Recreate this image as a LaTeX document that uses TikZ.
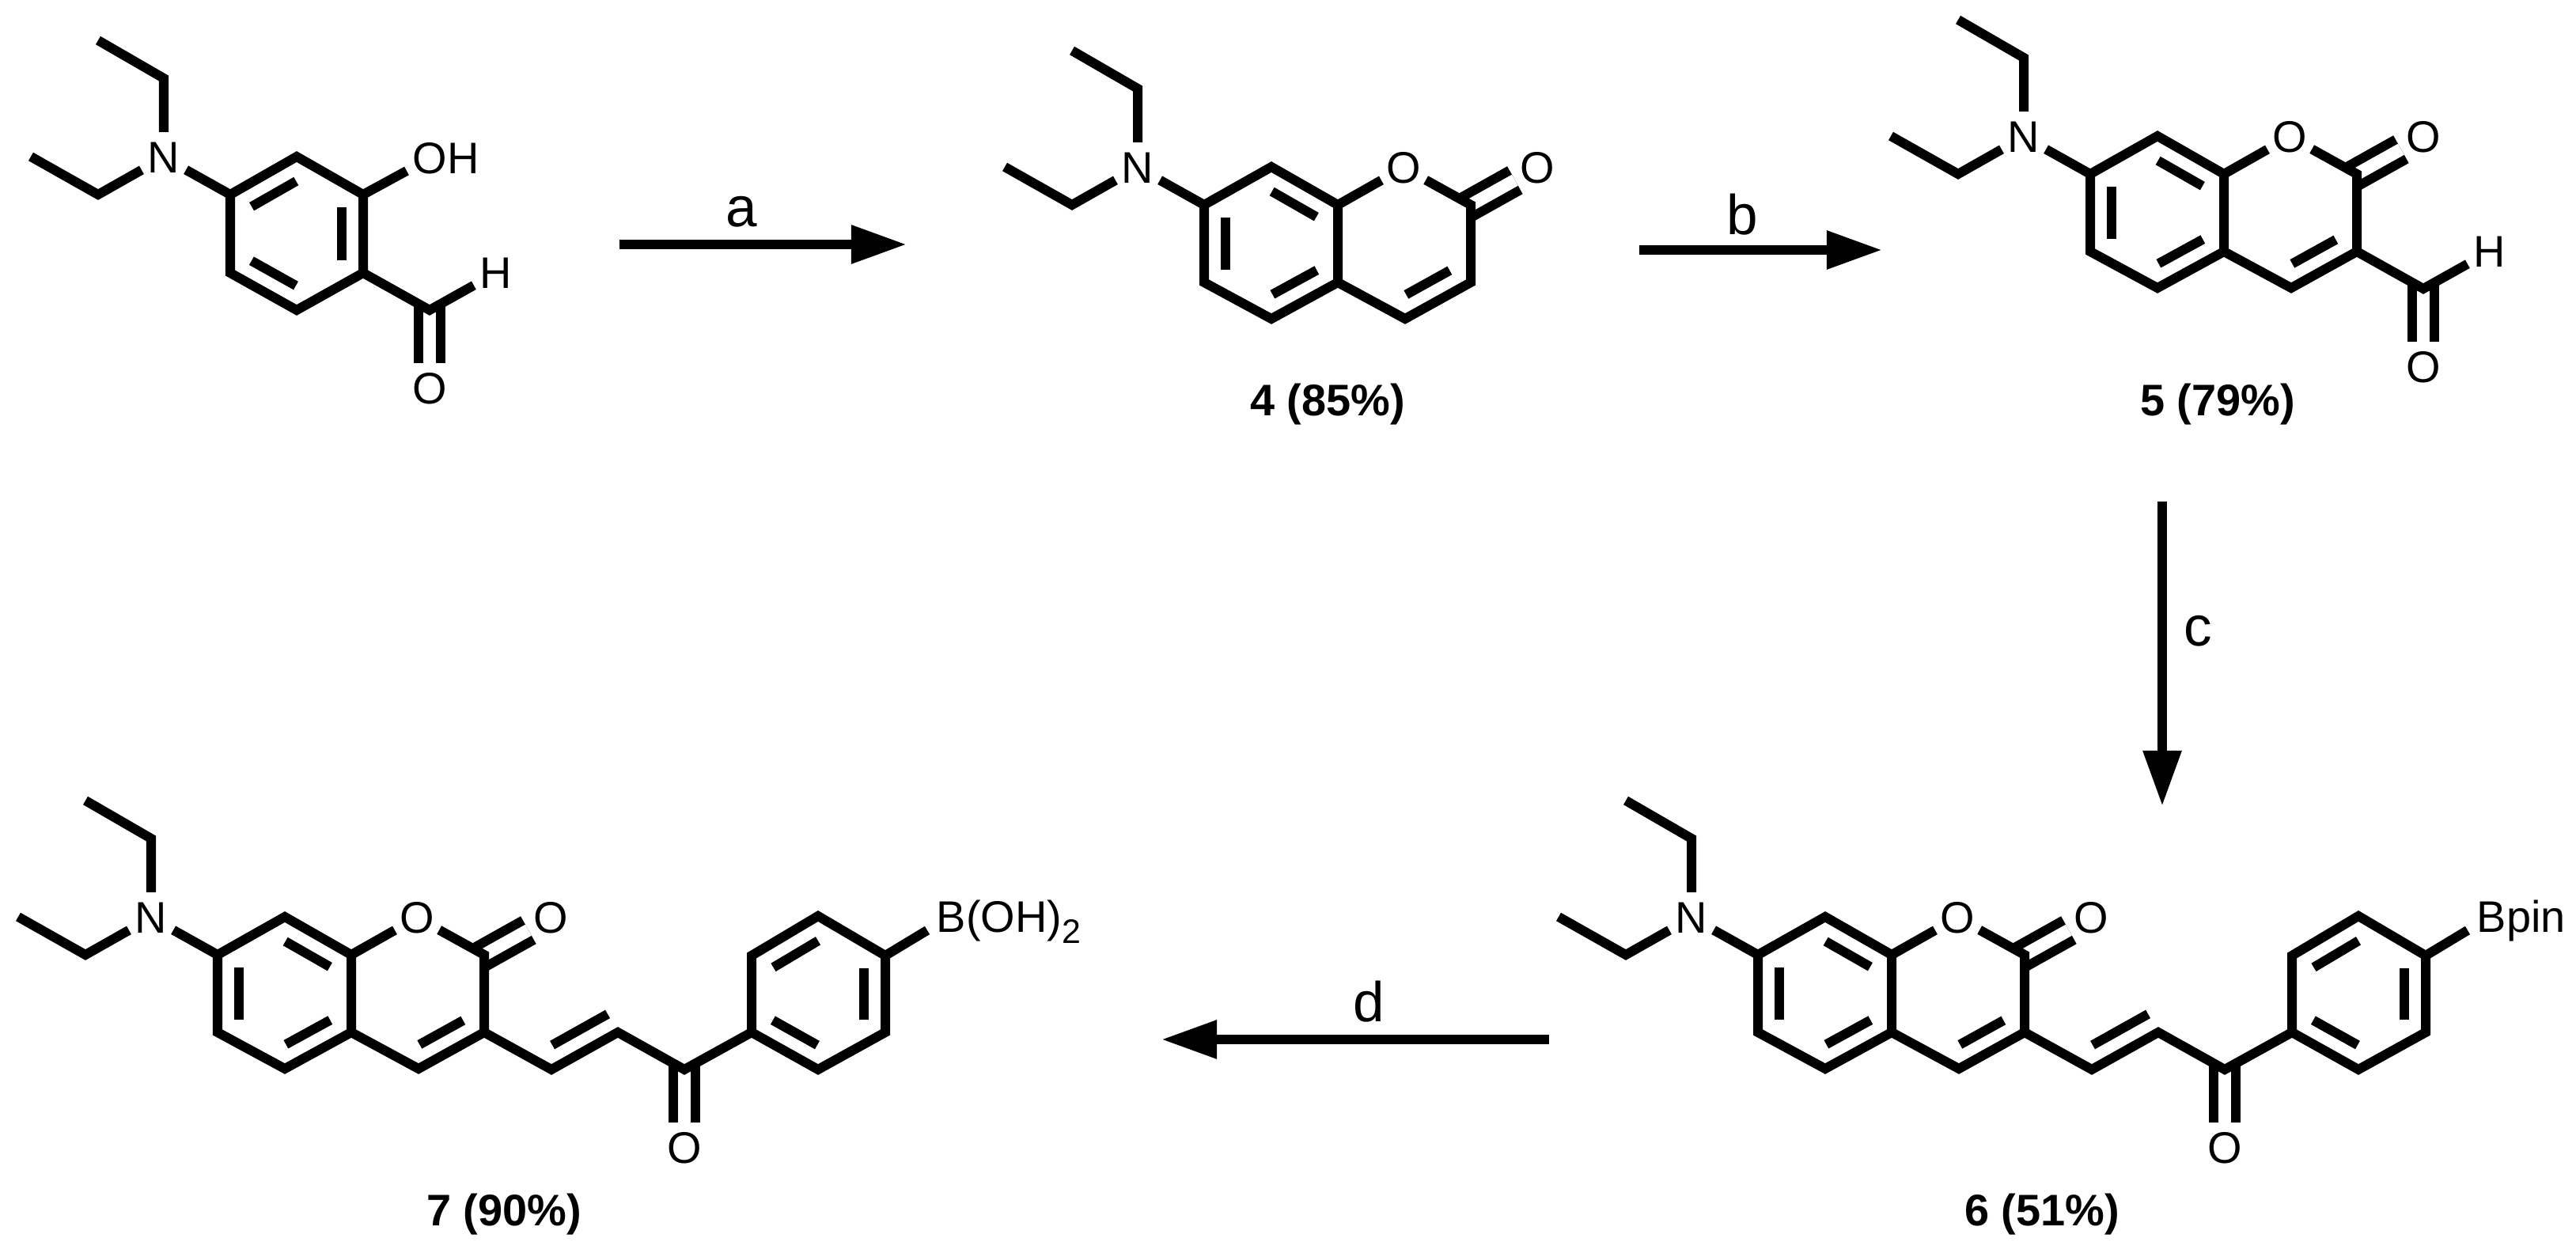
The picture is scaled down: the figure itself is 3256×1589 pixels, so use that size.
\documentclass[tikz,border=0pt]{standalone}
\usepackage{fontspec}
\setmainfont{Liberation Sans}
\usetikzlibrary{calc,arrows.meta}
\newcommand{\chemfont}{\fontsize{15.9pt}{19pt}\selectfont}
\newcommand{\stepfont}{\fontsize{20.2pt}{24pt}\selectfont}
\newcommand{\subtwo}{\raisebox{-0.13cm}{\fontsize{12.2pt}{14pt}\selectfont 2}}
\tikzset{
  bond/.style={line width=0.12cm},
  dblbond/.style={bond, double, double distance=0.16cm, shorten <=-0.05cm},
  atom/.style={circle, inner sep=0pt, minimum size=0.63cm, font=\chemfont},
  group/.style={inner sep=0pt, anchor=base west, font=\chemfont},
  yieldlbl/.style={inner sep=0pt, anchor=base, font=\chemfont\bfseries},
  steplbl/.style={inner sep=0pt, anchor=base, font=\stepfont},
  rxnarrow/.style={line width=0.12cm, -{Triangle[length=0.7cm, width=0.46cm]}}
}
\newcommand{\ringbond}[3][]{%
  \draw[bond, shorten <=0.16cm, shorten >=0.16cm, #1]
       ($(#2)!0.275!90:(#3)$) -- ($(#3)!0.275!-90:(#2)$);}
\newcommand{\amino}[1]{%
  \coordinate (#1e1) at (-167,-195);
  \coordinate (#1e2) at (-84,-147);
  \coordinate (#1e3) at (-252,-48);
  \coordinate (#1e4) at (-167,0);
  \node[atom] (#1n) at (-84,-47) {N};
  \draw[bond] (#1e1) -- (#1e2) -- (#1n);
  \draw[bond] (#1e3) -- (#1e4) -- (#1n);
  \draw[bond] (#1n) -- (#1c7);}
\newcommand{\formyl}[2]{%
  \begin{scope}[shift={(#2)}]
    \coordinate (#1f) at (84,47);
    \node[atom] (#1h) at (168,0) {H};
    \node[atom] (#1fo) at (84,146) {O};
    \draw[dblbond] (#1f) -- (#1fo);
    \draw[bond] (0,0) coordinate (#1fr) -- (#1f) -- (#1h);
  \end{scope}}
\newcommand{\coumarin}[3]{%
  \begin{scope}[shift={(#2,#3)}]
    \coordinate (#1c7) at (0,0);
    \coordinate (#1c8) at (85,-48);
    \coordinate (#1c8a) at (169,0);
    \coordinate (#1c4a) at (169,98);
    \coordinate (#1c5) at (85,144);
    \coordinate (#1c6) at (0,98);
    \coordinate (#1c2) at (337,0);
    \coordinate (#1c3) at (337,98);
    \coordinate (#1c4) at (254,144);
    \node[atom] (#1o1) at (252,-47) {O};
    \node[atom] (#1o2) at (421,-47) {O};
    \draw[dblbond] (#1c2) -- (#1o2);
    \draw[bond] (#1c7) -- (#1c8) -- (#1c8a) -- (#1c4a) -- (#1c5) -- (#1c6) -- cycle;
    \draw[bond] (#1c8a) -- (#1o1) -- (#1c2) -- (#1c3) -- (#1c4) -- (#1c4a);
    \ringbond{#1c7}{#1c6}
    \ringbond{#1c8a}{#1c8}
    \ringbond{#1c5}{#1c4a}
    \ringbond{#1c4}{#1c3}
    \amino{#1}
  \end{scope}}
\newcommand{\enone}[4]{%
  \begin{scope}[shift={(#2,#3)}]
    \coordinate (#1c3x) at (0,0);
    \coordinate (#1v1) at (85,47);
    \coordinate (#1v2) at (169,0);
    \coordinate (#1k) at (253,47);
    \node[atom] (#1ko) at (253,146) {O};
    \coordinate (#1r1) at (338,0);
    \coordinate (#1r2) at (338,-97);
    \coordinate (#1r3) at (422,-147);
    \coordinate (#1r4) at (507,-97);
    \coordinate (#1r5) at (507,0);
    \coordinate (#1r6) at (422,47);
    \coordinate (#1bend) at (560,-129);
    \node[group] (#1b) at (571,-126) {#4};
    \draw[dblbond] (#1k) -- (#1ko);
    \draw[bond] (#1c3x) -- (#1v1) -- (#1v2) -- (#1k) -- (#1r1);
    \draw[bond] (#1r1) -- (#1r2) -- (#1r3) -- (#1r4) -- (#1r5) -- (#1r6) -- cycle;
    \draw[bond] (#1r4) -- (#1bend);
    \ringbond[shorten >=0pt]{#1v1}{#1v2}
    \ringbond{#1r3}{#1r2}
    \ringbond{#1r1}{#1r6}
    \ringbond{#1r5}{#1r4}
  \end{scope}}
\begin{document}
\begin{tikzpicture}[x=0.01cm, y=-0.01cm]
      \useasboundingbox (0,0) rectangle (3256,1589);

      \begin{scope}[shift={(291,246)}]
        \coordinate (c7) at (0,0);
        \coordinate (sa2) at (84,-48);
        \coordinate (sa3) at (168,0);
        \coordinate (sa4) at (168,99);
        \coordinate (sa5) at (84,146);
        \coordinate (sa6) at (0,99);
        \coordinate (ohend) at (223,-30);
        \node[group] (oh) at (230,-26) {OH};
        \draw[bond] (c7) -- (sa2) -- (sa3) -- (sa4) -- (sa5) -- (sa6) -- cycle;
        \draw[bond] (sa3) -- (ohend);
        \ringbond{sa2}{c7}
        \ringbond{sa6}{sa5}
        \ringbond{sa4}{sa3}
        \amino{}
      \end{scope}
      \formyl{sa}{459,345}

      \coumarin{p}{1522}{259}
      \coumarin{q}{2642}{220}
      \formyl{q}{2979,318}
      \coumarin{r}{2222}{1207}
      \enone{r}{2559}{1305}{Bpin}
      \coumarin{s}{275}{1207}
      \enone{s}{612}{1305}{B(OH)\subtwo}

      \coordinate (astart) at (783,309);
      \coordinate (aend) at (1146,309);
      \coordinate (bstart) at (2072,316);
      \coordinate (bend) at (2379,316);
      \coordinate (cstart) at (2733,634);
      \coordinate (cend) at (2733,1019);
      \coordinate (dstart) at (1958,1314);
      \coordinate (dend) at (1468,1314);
      \draw[rxnarrow] (astart) -- (aend);
      \draw[rxnarrow] (bstart) -- (bend);
      \draw[rxnarrow] (cstart) -- (cend);
      \draw[rxnarrow] (dstart) -- (dend);
      \node[steplbl] (alab) at (937,287) {a};
      \node[steplbl] (blab) at (2202,297) {b};
      \node[steplbl] (clab) at (2778,817) {c};
      \node[steplbl] (dlab) at (1730,1292) {d};

      \node[yieldlbl] (ylda) at (1678,526) {4 (85\%)};
      \node[yieldlbl] (yldb) at (2803,526) {5 (79\%)};
      \node[yieldlbl] (yldc) at (2581,1550) {6 (51\%)};
      \node[yieldlbl] (yldd) at (637,1550) {7 (90\%)};
\end{tikzpicture}
\end{document}
